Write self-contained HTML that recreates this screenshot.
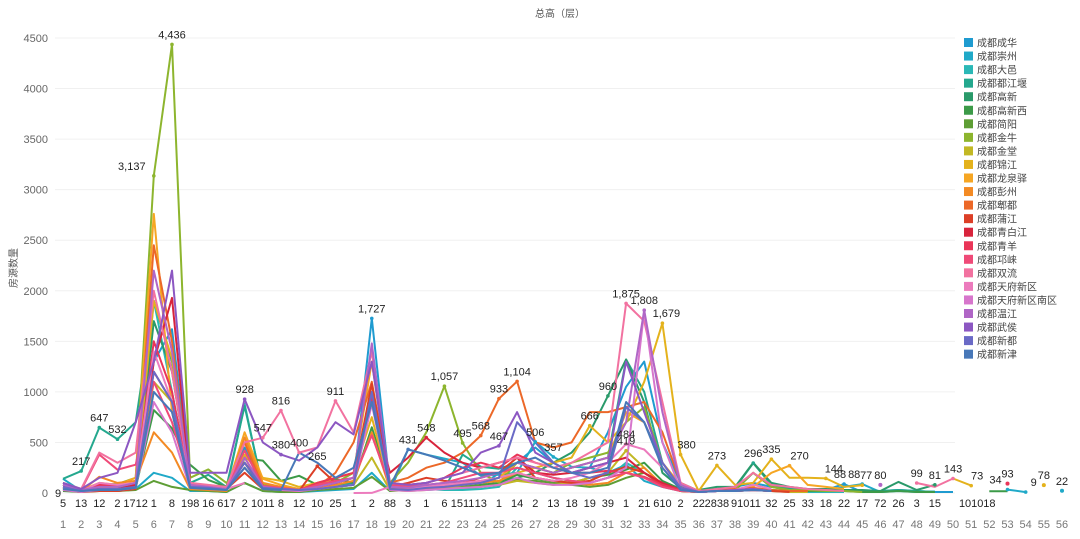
<!DOCTYPE html>
<html><head><meta charset="utf-8">
<style>
body{margin:0;background:#fff;}
svg{display:block;font-family:"Liberation Sans","Noto Sans CJK SC",sans-serif;}
</style></head>
<body>
<svg id="chart" width="1080" height="539" viewBox="0 0 1080 539" xmlns="http://www.w3.org/2000/svg">
<text x="560" y="17" font-size="10" fill="#555" text-anchor="middle">总高（层）</text>
<text x="0" y="0" font-size="10" fill="#555" text-anchor="middle" transform="translate(17,268) rotate(-90)">房源数量</text>
<g id="grid"></g>
<g id="series"></g>
<g id="labels"></g>
<g id="legend"></g>
</svg>
<script>
const categories = Array.from({length:56},(_,i)=>String(i+1));
const yTicks = [0,500,1000,1500,2000,2500,3000,3500,4000,4500];
const seriesNames = ["成都成华","成都崇州","成都大邑","成都都江堰","成都高新","成都高新西","成都简阳","成都金牛","成都金堂","成都锦江","成都龙泉驿","成都彭州","成都郫都","成都蒲江","成都青白江","成都青羊","成都邛崃","成都双流","成都天府新区","成都天府新区南区","成都温江","成都武侯","成都新都","成都新津"];
const seriesColors = ["#1f9bd0","#20a9c8","#2ab8b6","#24a88e","#2a9a6a","#3c9a48","#5e9e35","#8db52e","#c2b824","#e4b21c","#f6a623","#f38a24","#ec6828","#dc3f27","#d8243c","#ea3558","#ef4a78","#f272a0","#ec7bbd","#d776cc","#b066c6","#8c57c2","#6a6ac6","#4878b8"];
const N=null;
const s0=[100,40,60,50,80,1300,1620,100,60,40, 450,40,30,30,60,80,100,1727,60,80, 60,50,40,60,200,300,450,300,200,250, 600,1050,1300,500,100,20,40,60,100,60, 50,30,30,88,10,20,30,20,10,10, N,N,N,N,N,N];
const s1=[140,20,30,20,40,200,150,20,20,10, 100,20,10,10,20,30,40,200,20,430, 380,340,300,170,180,200,506,357,260,250, 200,280,120,60,20,10,30,40,40,30, 20,20,20,60,88,10,20,10,15,N, N,N,34,9,N,22];
const s2=[50,20,30,30,40,1900,1000,50,40,30, 880,40,30,20,40,60,80,1000,40,30, 40,30,30,40,60,250,200,150,120,100, 150,300,200,80,20,10,20,30,30,20, 15,10,10,10,N,N,N,N,N,N, N,N,N,N,N,N];
const s3=[140,217,647,532,700,1900,1300,100,180,60, 860,50,40,30,60,80,90,1000,50,40, 30,40,380,260,240,300,250,200,250,300, 350,1320,1000,300,60,20,30,50,296,80, 40,30,20,30,20,20,30,20,10,N, N,N,N,N,N,N];
const s4=[80,30,50,40,60,1700,1200,80,60,40, 300,40,30,20,40,60,80,900,40,40, 40,50,80,60,100,150,200,300,400,600, 960,1320,900,200,50,30,60,60,300,100, 60,40,40,30,30,20,110,30,81,N, N,N,N,N,N,N];
const s5=[20,10,30,30,50,820,640,280,130,60, 340,320,120,170,80,140,100,650,80,60, 70,50,60,80,100,180,140,120,100,150, 180,230,300,120,40,20,30,30,200,60, 30,20,20,20,10,10,20,10,10,N, N,18,18,N,N,N];
const s6=[30,10,20,20,30,120,60,30,20,10, 100,20,10,10,30,40,50,160,20,30, 40,50,60,70,80,130,120,100,80,60, 80,150,200,80,20,10,20,30,40,30, 20,20,N,N,N,N,N,N,N,N, N,N,N,N,N,N];
const s7=[80,30,80,90,150,3137,4436,150,233,100, 300,80,50,30,80,100,200,900,100,300, 600,1057,495,200,100,300,250,200,300,350, 400,700,850,300,50,20,30,40,200,60, 30,30,20,20,10,N,N,N,N,N, N,N,N,N,N,N];
const s8=[50,20,40,40,60,1100,900,60,50,30, 250,40,30,20,40,60,80,350,30,20, 30,60,50,60,80,120,100,80,100,150, 200,419,250,80,20,10,20,20,30,20, 10,10,N,N,N,N,N,N,N,N, N,N,N,N,N,N];
const s9=[100,40,60,60,100,1900,1330,80,60,40, 380,150,120,60,100,150,200,750,60,50, 40,60,80,100,150,200,250,300,350,666, 500,700,1100,1679,380,20,273,80,100,335, 150,150,144,60,77,N,N,N,N,143, 73,N,N,N,78,N];
const s10=[60,30,100,80,150,2760,800,60,50,30, 600,140,80,40,80,150,200,1300,80,60, 50,80,100,120,150,300,250,200,250,300, 350,800,700,300,80,20,30,40,60,200, 270,80,60,40,N,N,N,N,N,N, N,N,N,N,N,N];
const s11=[40,20,160,100,120,600,400,40,30,20, 550,100,60,30,50,80,120,600,40,30, 40,60,80,100,120,200,150,120,100,80, 100,200,250,80,20,10,20,20,30,20, 20,N,N,N,N,N,N,N,N,N, N,N,N,N,N,N];
const s12=[50,20,40,40,60,2450,1500,60,50,30, 500,60,40,30,60,200,500,1100,100,150, 250,300,400,568,933,1104,500,450,500,800, 800,850,900,600,100,20,30,40,50,30, 20,20,N,N,N,N,N,N,N,N, N,N,N,N,N,N];
const s13=[30,10,20,20,40,1200,900,100,60,40, 200,40,30,20,265,100,150,1080,60,100, 150,120,100,150,200,350,150,120,100,120, 200,260,200,80,20,10,20,20,40,20, 10,N,N,N,N,N,N,N,N,N, N,N,N,N,N,N];
const s14=[40,20,40,40,80,1300,1930,100,60,40, 300,50,40,30,60,100,150,900,200,350, 548,400,300,250,300,350,200,180,200,250, 300,350,200,100,30,10,20,20,30,20, N,N,N,N,N,N,N,N,N,N, N,N,N,N,N,N];
const s15=[60,30,80,70,100,1500,1000,80,60,40, 350,60,40,30,100,150,200,950,100,80, 100,150,250,300,250,380,300,250,200,200, 220,200,160,80,30,10,20,20,30,20, N,N,N,N,N,N,N,N,N,N, N,N,93,N,N,N];
const s16=[80,30,380,230,280,1100,700,100,60,40, 420,70,50,30,80,120,150,570,80,60, 80,100,150,200,200,250,200,150,120,100, 150,200,150,60,20,10,20,20,30,20, N,N,N,N,N,N,N,N,N,N, N,N,N,N,N,N];
const s17=[100,40,400,300,400,2000,1200,100,80,60, 500,547,816,400,450,911,600,1400,100,80, 100,150,200,250,300,350,300,250,300,400, 500,1875,1700,900,100,20,40,60,200,80, 60,40,30,20,N,N,N,99,60,143, N,N,N,N,N,N];
const s18=[50,20,100,80,100,1400,900,80,60,40, 100,N,N,N,N,N,0,1,60,50, 60,80,100,120,150,200,150,120,150,200, 300,484,430,250,50,10,20,30,80,40, N,N,N,N,N,N,N,N,N,N, N,N,N,N,N,N];
const s19=[30,10,30,30,50,900,600,50,40,30, 250,40,30,20,40,60,80,880,30,20, 30,40,50,60,80,150,100,80,80,100, 150,250,1800,500,30,10,20,20,40,20, N,N,N,N,N,N,N,N,N,N, N,N,N,N,N,N];
const s20=[80,30,60,60,100,2200,1400,80,60,40, 350,60,40,30,60,100,150,1480,60,50, 80,100,120,150,200,300,250,200,250,300, 350,700,1808,800,80,10,20,30,40,20, N,N,N,N,N,80,N,N,N,N, N,N,N,N,N,N];
const s21=[100,40,150,200,700,1300,2200,200,200,200, 928,500,380,320,450,700,580,1300,100,80, 100,150,200,400,467,800,400,300,200,250, 300,1300,800,300,50,10,20,30,40,20, N,N,N,N,N,N,N,N,N,N, N,N,N,N,N,N];
const s22=[60,20,40,40,60,1200,900,60,50,30, 300,50,40,30,40,60,80,1000,40,30, 50,60,80,100,150,700,500,300,200,150, 200,850,700,300,50,10,20,20,30,20, N,N,N,N,N,N,N,N,N,N, N,N,N,N,N,N];
const s23=[40,20,30,30,50,1000,800,50,40,30, 250,40,30,400,300,150,250,900,60,431, 380,320,250,180,200,300,350,250,200,200, 250,900,700,250,30,10,20,20,30,20, N,N,N,N,N,N,N,N,N,N, N,N,N,N,N,N];
const seriesValues=[s0,s1,s2,s3,s4,s5,s6,s7,s8,s9,s10,s11,s12,s13,s14,s15,s16,s17,s18,s19,s20,s21,s22,s23];
const labelPoints=[[7,6,-22],[7,7,0],[3,2,0],[3,3,0],[3,4,0],[21,11,0],[17,12,0],[17,13,0],[21,13,0],[17,14,0],[17,16,0],[13,15,0],[0,18,0],[23,20,0],[14,21,0],[7,22,0],[7,23,0],[12,24,0],[12,25,0],[21,25,0],[12,26,0],[1,27,0],[1,28,0],[9,30,0],[4,31,0],[17,32,0],[20,33,0],[9,34,4],[18,32,0],[8,32,0],[9,35,6],[9,37,0],[3,39,0],[9,40,0],[10,41,10],[9,43,8],[0,44,-4],[1,45,-8],[9,45,4],[20,46,0],[17,48,0],[4,49,0],[17,50,0],[9,51,6],[15,53,0],[1,53,-12],[1,54,8],[9,55,0],[1,56,0]];
const baseLabels=[[1,"5"],[2,"13"],[3,"12"],[4,"2"],[5,"1712"],[6,"1"],[7,"8"],[8,"198"],[9,"16"],[10,"617"],[11,"2"],[12,"1011"],[13,"8"],[14,"12"],[15,"10"],[16,"25"],[17,"1"],[18,"2"],[19,"88"],[20,"3"],[21,"1"],[22,"6"],[23,"1511"],[24,"13"],[25,"1"],[26,"14"],[27,"2"],[28,"13"],[29,"18"],[30,"19"],[31,"39"],[32,"1"],[33,"21"],[34,"610"],[35,"2"],[36,"22"],[37,"2838"],[38.6,"91011"],[40,"32"],[41,"25"],[42,"33"],[43,"18"],[44,"22"],[45,"17"],[46,"72"],[47,"26"],[48,"3"],[49,"15"],[51,"1010"],[52,"18"]];

const NS="http://www.w3.org/2000/svg";
const X0=63,X1=1062,Y0=493,YK=455/4500;
function xs(c){return X0+(c-1)*(X1-X0)/55;}
function ys(v){return Y0-v*YK;}
function mk(tag,attrs,parent){const e=document.createElementNS(NS,tag);for(const k in attrs)e.setAttribute(k,attrs[k]);parent.appendChild(e);return e;}
const grid=document.getElementById('grid');
yTicks.forEach(t=>{
  const l=mk('line',{x1:55,x2:955,y1:ys(t),y2:ys(t),stroke:'#f0f0f0','stroke-width':1},grid);
  
  
  const tx=mk('text',{x:48,y:ys(t)+4,'font-size':11,fill:'#666','text-anchor':'end'},grid);
  tx.textContent=t;
  
  
});
categories.forEach((c,i)=>{
  const tx=mk('text',{x:xs(i+1),y:528,'font-size':11,fill:'#777','text-anchor':'middle'},grid);
  tx.textContent=c;
  
  
});
const sg=document.getElementById('series');
seriesValues.forEach((vals,si)=>{
  let d='',pen=false;
  vals.forEach((v,i)=>{
    if(v===null){pen=false;return;}
    const prevNull=(i===0||vals[i-1]===null),nextNull=(i===vals.length-1||vals[i+1]===null);
    if(prevNull&&nextNull){
      const c=mk('circle',{cx:xs(i+1),cy:ys(v),r:2,fill:seriesColors[si]},sg);
      
      
    }
    d+=(pen?'L':'M')+xs(i+1).toFixed(1)+','+ys(v).toFixed(1);pen=true;
  });
  const p=mk('path',{d:d,fill:'none',stroke:seriesColors[si],'stroke-width':2,'stroke-linejoin':'round'},sg);
  
  
});
const lg=document.getElementById('labels');
labelPoints.forEach(([si,c,dx])=>{
  const v=seriesValues[si][c-1];
  if(v===null||v===undefined)return;
  mk('circle',{cx:xs(c),cy:ys(v),r:1.8,fill:seriesColors[si]},lg);
  const tx=mk('text',{x:xs(c)+dx,y:ys(v)-6,'font-size':11,fill:'#222','text-anchor':'middle'},lg);
  tx.textContent=v.toLocaleString('en-US');
  
  
});
{const tx=mk('text',{x:58,y:497,'font-size':11,fill:'#222','text-anchor':'middle'},lg);tx.textContent='9';

}
baseLabels.forEach(([c,t])=>{
  const tx=mk('text',{x:xs(c),y:507,'font-size':11,fill:'#222','text-anchor':'middle'},lg);
  tx.textContent=t;
  
  
});
const leg=document.getElementById('legend');
seriesNames.forEach((n,i)=>{
  const y=38+i*13.55;
  const r=mk('rect',{x:964,y:y,width:9,height:9,fill:seriesColors[i]},leg);
  
  
  const tx=mk('text',{x:977,y:y+8.5,'font-size':10,fill:'#444'},leg);
  tx.textContent=n;
  
  
});
</script>
</body></html>
